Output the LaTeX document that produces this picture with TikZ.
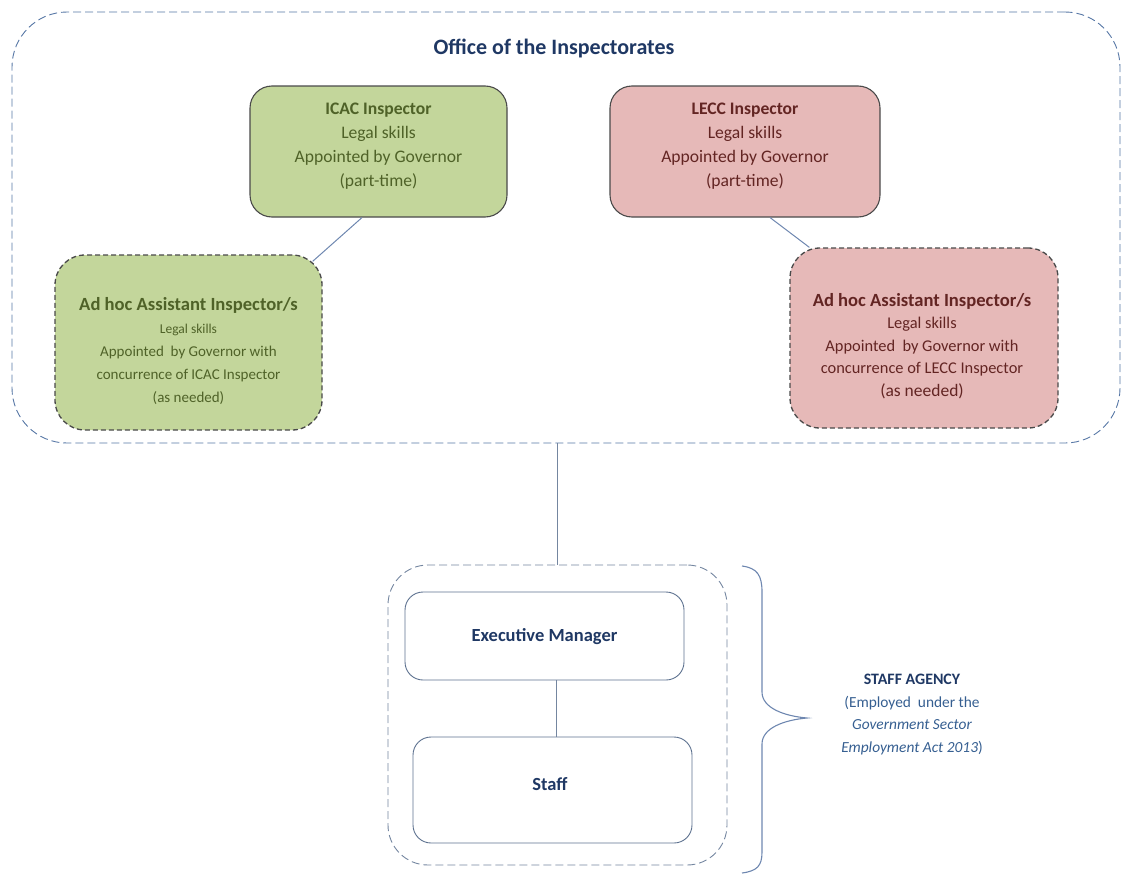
\documentclass[tikz,border=0pt]{standalone}
\usepackage{fontspec}
\setmainfont{Carlito}
\usetikzlibrary{calc}
\definecolor{greenfill}{HTML}{C3D69B}
\definecolor{greentext}{HTML}{4F6228}
\definecolor{pinkfill}{HTML}{E6B9B8}
\definecolor{pinktext}{HTML}{632523}
\definecolor{boxborder}{HTML}{4A4A4A}
\definecolor{outerdash}{HTML}{5676A5}
\definecolor{groupdash}{HTML}{7486A0}
\definecolor{navy}{HTML}{1F3864}
\definecolor{agencyblue}{HTML}{365F91}
\definecolor{linkcol}{HTML}{6E87B0}
\definecolor{whiteborder}{HTML}{5E7290}
\tikzset{
  fs/.style 2 args={font=\fontsize{#1}{#2}\selectfont},
  solidbox/.style={draw=boxborder, line width=1.1pt, rounded corners=22pt, inner sep=0pt},
  dashbox/.style={draw=boxborder, line width=1.3pt, dash pattern=on 5pt off 3pt, rounded corners=30pt, inner sep=0pt},
  outerbox/.style={draw=outerdash, line width=0.9pt, dash pattern=on 8pt off 4pt, rounded corners=55pt, inner sep=0pt},
  groupbox/.style={draw=groupdash, line width=0.9pt, dash pattern=on 8pt off 4pt, rounded corners=40pt, inner sep=0pt},
  whitebox/.style={draw=whiteborder, line width=0.9pt, rounded corners=18pt, inner sep=0pt, fill=white},
  link/.style={draw=linkcol, line width=1pt},
  txt/.style={align=center, inner sep=0pt},
}
\begin{document}
\begin{tikzpicture}[x=1pt,y=-1pt]
\useasboundingbox (0,0) rectangle (1131,875);
% outer office box
\node[outerbox, minimum width=1108pt, minimum height=431pt] (office) at (566,227.5) {};
\node[txt, text=navy, fs={22}{26}] (title) at (554,48) {\bfseries Office of the Inspectorates};
% inspectors
\node[solidbox, fill=greenfill, minimum width=257pt, minimum height=131pt] (icac) at (378.5,151.5) {};
\node[txt, text=greentext, fs={17.6}{24}] (icactext) at (378.5,146) {\textbf{ICAC Inspector}\\Legal skills\\Appointed by Governor\\(part-time)};
\node[solidbox, fill=pinkfill, minimum width=270pt, minimum height=131pt] (lecc) at (745,151.5) {};
\node[txt, text=pinktext, fs={17.6}{24}] (lecctext) at (745,146) {\textbf{LECC Inspector}\\Legal skills\\Appointed by Governor\\(part-time)};
% ad hoc boxes
\node[dashbox, fill=greenfill, minimum width=267pt, minimum height=175pt] (adhocL) at (188.5,342.5) {};
\node[txt, text=greentext, fs={15}{23}] (adhocLtext) at (188.5,351.5) {{\fontsize{18.6}{23}\selectfont\bfseries Ad hoc Assistant Inspector/s}\\{\fontsize{13.5}{23}\selectfont Legal skills}\\Appointed\ \ by Governor with\\concurrence of ICAC Inspector\\(as needed)};
\node[dashbox, fill=pinkfill, minimum width=268pt, minimum height=180pt] (adhocR) at (924,338) {};
\node[txt, text=pinktext, fs={16.4}{22.5}] (adhocRtext) at (922,346) {{\fontsize{18.6}{22.5}\selectfont\bfseries Ad hoc Assistant Inspector/s}\\Legal skills\\Appointed\ \ by Governor with\\concurrence of LECC Inspector\\{\fontsize{17.5}{22.5}\selectfont (as needed)}};
% connectors in office
\draw[link] ([xshift=-16.5pt]icac.south) -- ([xshift=-10pt,yshift=-7pt]adhocL.north east);
\draw[link] ([xshift=25pt]lecc.south) -- ([xshift=20pt]adhocR.north west);
% staff agency group
\node[groupbox, minimum width=339pt, minimum height=300pt] (group) at (557.5,715) {};
\node[whitebox, minimum width=279pt, minimum height=88pt] (exec) at (544.5,636) {};
\node[txt, text=navy, fs={18.5}{22}] (exectext) at (544.5,637) {\bfseries Executive Manager};
\node[whitebox, minimum width=279pt, minimum height=106pt] (staff) at (552.5,790) {};
\node[txt, text=navy, fs={18.5}{22}] (stafftext) at (550,784) {\bfseries Staff};
\draw[link, draw=groupdash] (group.north |- office.south) -- (group.north);
\draw[link, draw=groupdash] ([xshift=-1.5pt]group.north |- exec.south) -- ([xshift=-1.5pt]group.north |- staff.north);
% brace
\coordinate (bracetip) at (807,718);
\draw[draw=linkcol, line width=1.1pt] (742,566) .. controls (757,568) and (762,575) .. (762,592) -- (762,692) .. controls (762,708) and (784,716) .. (bracetip) .. controls (784,720) and (762,728) .. (762,744) -- (762,852) .. controls (762,866) and (757,871) .. (742,873);
\node[txt, text=agencyblue, fs={15.4}{22.7}] (agency) at (912,714.5) {{\color{navy}\fontsize{15.9}{22.7}\selectfont\bfseries STAFF AGENCY}\\(Employed\ \ under the\\\textit{Government Sector}\\\textit{Employment Act 2013})};
\end{tikzpicture}
\end{document}
